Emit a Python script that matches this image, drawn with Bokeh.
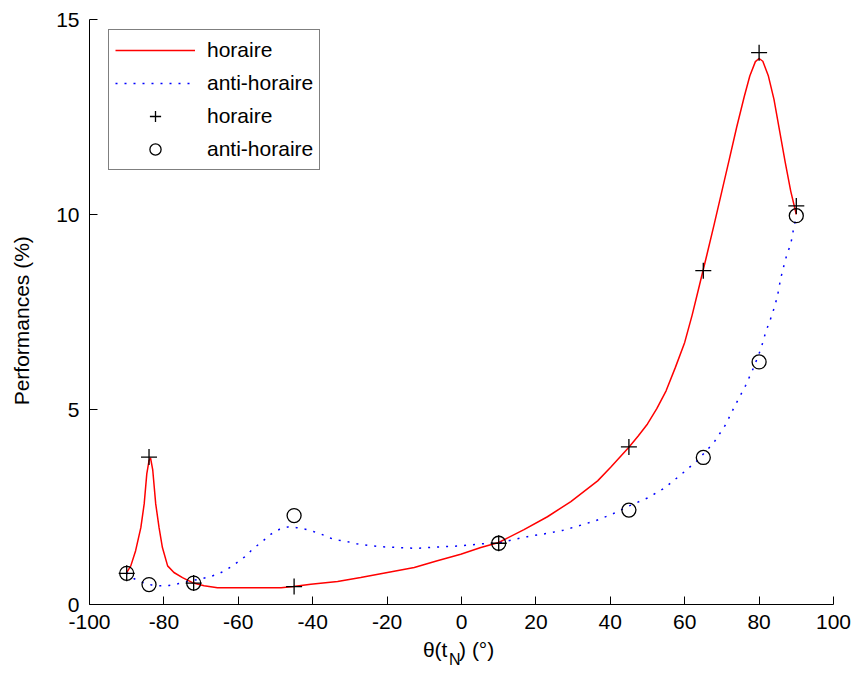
from bokeh.plotting import figure
from bokeh.models import Range1d, Legend, LegendItem, FixedTicker, LinearAxis
from bokeh.embed import file_html
from bokeh.resources import INLINE

# measured points (markers)
theta_pts = [-90, -84, -72, -45, 10, 45, 65, 80, 90]
perf_horaire = [0.80, 3.78, 0.55, 0.46, 1.57, 4.04, 8.56, 14.15, 10.22]
perf_anti = [0.80, 0.51, 0.55, 2.28, 1.57, 2.42, 3.77, 6.22, 9.97]

# fitted curves
curve_h_x = [-90, -88.9, -87.6, -86.2, -85.3, -84.6, -84.0, -83.6, -83.0, -82.2, -81.3, -80.4,
             -79.0, -77.3, -75.0, -72.3, -69.2, -65.6, -60, -55, -48.5, -45.2, -40.5, -33.3,
             -27.1, -19.9, -12.7, -6.5, -0.2, 5.2, 10, 16.8, 23.1, 29.4, 36.6, 40.1, 45, 47.5,
             50, 52.5, 55, 57.5, 60, 62, 64, 66, 68, 70, 72, 74, 76, 77.5, 79, 80,
             81, 82.5, 84, 85.5, 87, 88.5, 90]
curve_h_y = [0.82, 0.99, 1.38, 1.97, 2.58, 3.35, 3.69, 3.76, 3.45, 2.58, 1.97, 1.46,
             0.99, 0.82, 0.69, 0.56, 0.48, 0.43, 0.43, 0.43, 0.43, 0.46, 0.52, 0.59,
             0.69, 0.82, 0.95, 1.12, 1.29, 1.46, 1.59, 1.92, 2.25, 2.64, 3.17, 3.52, 4.03, 4.32,
             4.63, 5.02, 5.48, 6.08, 6.72, 7.42, 8.20, 8.98, 9.78, 10.6, 11.42, 12.25, 13.02, 13.55, 13.92, 14.0,
             13.93, 13.55, 12.95, 12.15, 11.35, 10.6, 10.0]

curve_a_x = [-90, -88.0, -85.5, -83.3, -81.0, -78.6, -76.3, -74.1, -72.0, -69.6, -67.4, -65.2,
             -62.9, -60.7, -58.3, -55.9, -53.6, -51.3, -48.9, -46.6, -44.3, -42.0, -39.8,
             -37.6, -35.1, -32.9, -30.6, -28.2, -26.0, -23.7, -21.3, -19.0, -16.8, -14.5,
             -12.3, -10.1, -7.6, -5.4, -3.1, -0.7, 1.6, 3.8, 6.1, 10, 13.3, 17.7, 22.2, 27.2,
             31.6, 36.1, 40.6, 45.1, 50.0, 54.5, 59.0, 63.4, 67.9, 71.0, 73.3, 76.4, 78.6,
             80.5, 81.8, 83.6, 84.9, 85.8, 86.7, 87.6, 88.5, 88.9, 89.4, 90]
curve_a_y = [0.82, 0.66, 0.56, 0.50, 0.48, 0.49, 0.53, 0.58, 0.62, 0.67, 0.72, 0.79,
             0.91, 1.05, 1.22, 1.44, 1.61, 1.80, 1.93, 1.99, 1.97, 1.93, 1.87,
             1.80, 1.70, 1.65, 1.61, 1.56, 1.53, 1.50, 1.48, 1.47, 1.46, 1.45,
             1.44, 1.45, 1.47, 1.48, 1.49, 1.50, 1.52, 1.54, 1.56, 1.58, 1.65, 1.74, 1.81, 1.90,
             2.02, 2.15, 2.32, 2.53, 2.73, 2.98, 3.33, 3.69, 4.16, 4.61, 5.06, 5.62, 6.09,
             6.56, 6.99, 7.46, 7.89, 8.36, 8.70, 9.02, 9.23, 9.45, 9.69, 9.95]

x_ticks = [-100, -80, -60, -40, -20, 0, 20, 40, 60, 80, 100]
y_ticks = [0, 5, 10, 15]

FONT = "Liberation Sans"
NB = "\u00a0"

p = figure(width=852, height=675, output_backend="svg", toolbar_location=None,
           x_range=Range1d(-100, 100), y_range=Range1d(0, 15),
           min_border_left=89, min_border_right=19, min_border_top=19, min_border_bottom=71)
p.frame_width = 744
p.frame_height = 585
p.outline_line_color = None
p.grid.visible = False
p.background_fill_color = "white"
p.border_fill_color = "white"

for ax in (p.xaxis[0], p.yaxis[0]):
    ax.axis_line_color = "black"
    ax.axis_line_width = 1
    ax.major_tick_line_color = "black"
    ax.major_tick_in = 8
    ax.major_tick_out = 0
    ax.minor_tick_in = 0
    ax.minor_tick_out = 0
    ax.major_label_text_font = FONT
    ax.major_label_text_font_size = "21px"
    ax.major_label_text_color = "black"
    ax.major_label_standoff = 10
    ax.axis_label_text_font = FONT
    ax.axis_label_text_font_size = "21px"
    ax.axis_label_text_font_style = "normal"
    ax.axis_label_text_color = "black"
p.xaxis.ticker = FixedTicker(ticks=x_ticks)
p.yaxis.ticker = FixedTicker(ticks=y_ticks)
p.xaxis.major_label_overrides = {t: str(t) for t in x_ticks}
p.yaxis.major_label_overrides = {t: str(t) for t in y_ticks}

p.yaxis.axis_label = "Performances (%)" + NB * 3
p.yaxis.axis_label_standoff = 20
p.xaxis.axis_label = "θ(t" + NB * 2 + ") (°)" + NB
p.xaxis.axis_label_standoff = 6

# subscript of the x title, drawn as the label of a bare second axis
sub_axis = LinearAxis(ticker=FixedTicker(ticks=[]), axis_line_color=None,
                      major_tick_in=0, major_tick_out=0, minor_tick_in=0, minor_tick_out=0,
                      major_label_standoff=0, axis_label="N" + NB * 3,
                      axis_label_text_font=FONT, axis_label_text_font_size="16px",
                      axis_label_text_font_style="normal", axis_label_text_color="black",
                      axis_label_standoff=-13)
p.add_layout(sub_axis, "below")

r_h = p.line(curve_h_x, curve_h_y, line_color="#ff0000", line_width=1.5)
r_a = p.line(curve_a_x, curve_a_y, line_color="#0000ff", line_width=1.5, line_dash="2 7")
m_h = p.scatter(theta_pts, perf_horaire, marker="cross", size=16, line_color="black", line_width=1.3)
m_a = p.scatter(theta_pts, perf_anti, marker="circle", size=14, line_color="black",
                line_width=1.3, fill_color=None)

legend = Legend(items=[LegendItem(label="horaire", renderers=[r_h]),
                       LegendItem(label="anti-horaire", renderers=[r_a]),
                       LegendItem(label="horaire", renderers=[m_h]),
                       LegendItem(label="anti-horaire", renderers=[m_a])],
                location=(19, 434))
legend.label_text_font = FONT
legend.label_text_font_size = "21px"
legend.label_text_color = "black"
legend.glyph_width = 80
legend.glyph_height = 28
legend.label_height = 20
legend.spacing = 5
legend.padding = 6
legend.margin = 0
legend.label_standoff = 12
legend.border_line_color = "black"
legend.border_line_width = 1
legend.background_fill_color = "white"
legend.background_fill_alpha = 1
p.add_layout(legend)

open("out.html", "w").write(file_html(p, INLINE))
